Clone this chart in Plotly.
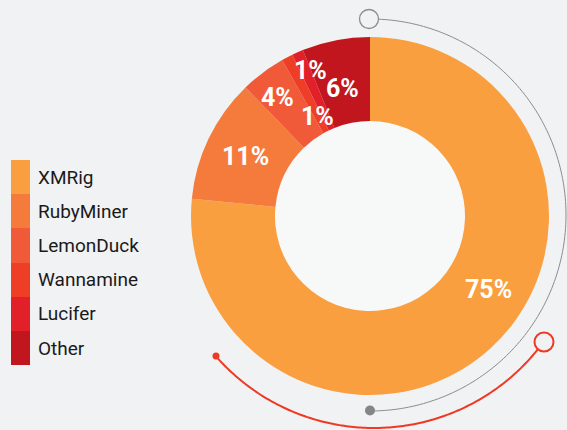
import numpy as np
import plotly.graph_objects as go

# data
miners = ["XMRig", "RubyMiner", "LemonDuck", "Wannamine", "Lucifer", "Other"]
shares = [75, 11, 4, 1, 1, 6]
colors = ["#F99F3F", "#F57B3C", "#F05A39", "#EE3E26", "#E2202A", "#C1161E"]

W, H = 567, 430
CX, CY = 370, 216          # donut centre in px
R_OUT, R_IN = 179, 95
BG = "#F1F2F4"

# where each % label sits: (angle shift in deg, radius as fraction of R_OUT)
label_style = {
    "XMRig": (-16, 0.78),
    "RubyMiner": (0, 0.77),
    "LemonDuck": (-1, 0.84),
    "Wannamine": (0, 0.63),
    "Lucifer": (1.5, 0.88),
    "Other": (-1, 0.73),
}


def paper(x, y):
    return x / W, 1 - y / H


def arc_path(cx, cy, r, a0, a1, n=160):
    # angles clockwise from 12 o'clock, in degrees
    t = np.radians(np.linspace(a0, a1, n))
    pts = [paper(cx + r * np.sin(a), cy - r * np.cos(a)) for a in t]
    return "M " + " L ".join(f"{x:.5f},{y:.5f}" for x, y in pts)


def circle(cx, cy, r, **kw):
    x0, y0 = paper(cx - r, cy + r)
    x1, y1 = paper(cx + r, cy - r)
    return dict(type="circle", xref="paper", yref="paper",
                x0=x0, y0=y0, x1=x1, y1=y1, **kw)


fig = go.Figure()

fig.add_trace(go.Pie(
    labels=miners,
    values=shares,
    marker=dict(colors=colors, line=dict(width=0)),
    hole=R_IN / R_OUT,
    sort=False,
    direction="clockwise",
    rotation=0,
    textinfo="none",
    showlegend=False,
    domain=dict(x=[(CX - R_OUT) / W, (CX + R_OUT) / W],
                y=[1 - (CY + R_OUT) / H, 1 - (CY - R_OUT) / H]),
))

# legend drawn as a stacked colour column with labels on the right
fig.add_trace(go.Bar(
    x=[1] * len(miners),
    y=miners,
    orientation="h",
    marker=dict(color=colors, line=dict(width=0)),
    showlegend=False,
    hoverinfo="skip",
))

# percentage labels
annotations = []
total = sum(shares)
start = 0
for name, v in zip(miners, shares):
    mid = (start + v / 2) / total * 360
    start += v
    shift, frac = label_style[name]
    a = np.radians(mid + shift)
    r = frac * R_OUT
    x, y = paper(CX + r * np.sin(a), CY - r * np.cos(a))
    annotations.append(dict(
        x=x, y=y, xref="paper", yref="paper", text=f"{v}%",
        showarrow=False, xanchor="center", yanchor="middle",
        font=dict(family="Roboto", size=25, color="white", weight=700),
    ))

shapes = [
    circle(CX, CY, R_IN + 1, fillcolor="#F7F8F8", line=dict(width=0), layer="below"),
    dict(type="path", xref="paper", yref="paper",
         path=arc_path(370, 215, 196, 0, 180), line=dict(color="#8C8C8C", width=1)),
    dict(type="path", xref="paper", yref="paper",
         path=arc_path(374, 218, 210, 126, 229), line=dict(color="#EE3A24", width=2)),
    circle(369, 19, 9.5, fillcolor=BG, line=dict(color="#8C8C8C", width=1.3)),
    circle(370, 410.5, 5, fillcolor="#858585", line=dict(width=0)),
    circle(544, 342, 9.5, fillcolor=BG, line=dict(color="#EE3A24", width=2)),
    circle(216, 356, 3.5, fillcolor="#EE3A24", line=dict(width=0)),
]

fig.update_layout(
    width=W,
    height=H,
    margin=dict(l=0, r=0, t=0, b=0),
    paper_bgcolor=BG,
    plot_bgcolor=BG,
    bargap=0,
    annotations=annotations,
    shapes=shapes,
    font=dict(family="Roboto", color="#1A1A1A"),
    xaxis=dict(domain=[11 / W, 30 / W], range=[0, 1], visible=False, fixedrange=True),
    yaxis=dict(
        domain=[1 - 365 / H, 1 - 160 / H],
        categoryorder="array",
        categoryarray=miners,
        autorange="reversed",
        side="right",
        ticks="",
        showgrid=False,
        zeroline=False,
        showline=False,
        ticklabelstandoff=7,
        tickfont=dict(family="Roboto", size=19, color="#1A1A1A"),
        fixedrange=True,
    ),
)

fig.write_html(
    "out.html",
    config={"displayModeBar": False},
    post_script="document.body.style.margin='0';document.body.style.background='%s';" % BG,
)
